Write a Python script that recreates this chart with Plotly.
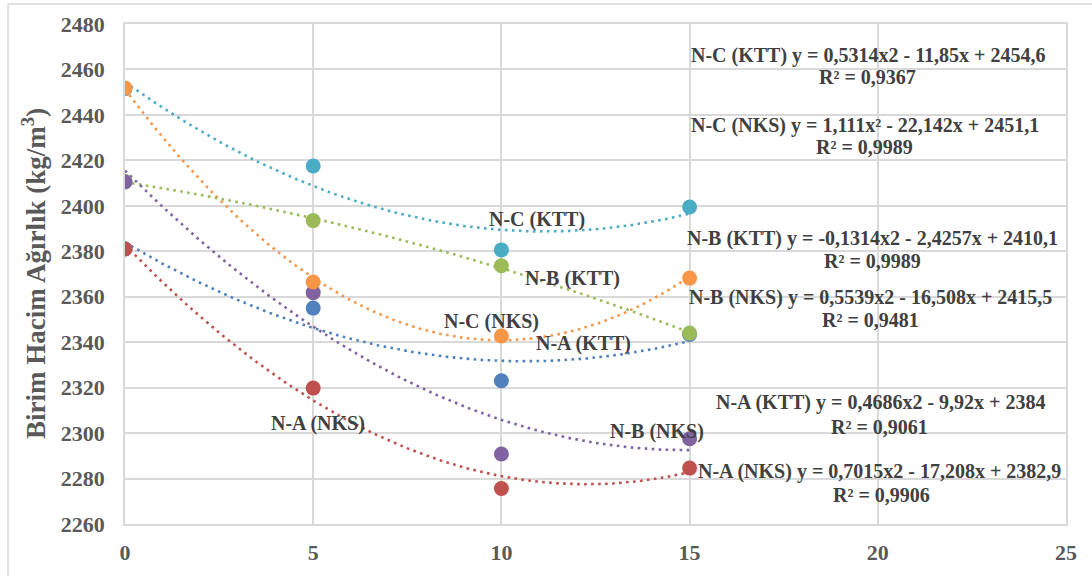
import numpy as np
import plotly.graph_objects as go

x_vals = [0, 5, 10, 15]
series_names = ["N-C (KTT)", "N-C (NKS)", "N-B (KTT)", "N-B (NKS)", "N-A (KTT)", "N-A (NKS)"]
nc_ktt = [2451.5, 2417.5, 2380.6, 2399.5]
nc_nks = [2451.8, 2366.5, 2342.7, 2368.2]
nb_ktt = [2410.8, 2393.5, 2373.6, 2344.0]
nb_nks = [2410.5, 2361.8, 2290.8, 2297.5]
na_ktt = [2381.0, 2355.0, 2323.0, 2343.4]
na_nks = [2381.0, 2319.8, 2275.6, 2284.6]
colors = ["#4BACC6", "#F79646", "#9BBB59", "#8064A2", "#4F81BD", "#C0504D"]
eq_lines = [
    "N-C (KTT) y = 0,5314x2 - 11,85x + 2454,6",
    "N-C (NKS) y = 1,111x² - 22,142x + 2451,1",
    "N-B (KTT) y = -0,1314x2 - 2,4257x + 2410,1",
    "N-B (NKS) y = 0,5539x2 - 16,508x + 2415,5",
    "N-A (KTT) y = 0,4686x2 - 9,92x + 2384",
    "N-A (NKS) y = 0,7015x2 - 17,208x + 2382,9",
]
r2_lines = ["R² = 0,9367", "R² = 0,9989", "R² = 0,9989", "R² = 0,9481", "R² = 0,9061", "R² = 0,9906"]
# equation label positions (data coords): line 1 and R² line
eq_pos = [(19.75, 2466.2), (19.67, 2435.4), (19.85, 2385.7), (19.80, 2359.7), (20.08, 2313.3), (20.05, 2283.3)]
r2_pos = [(19.72, 2456.5), (19.65, 2425.8), (19.85, 2375.6), (19.80, 2349.6), (20.05, 2302.7), (20.10, 2272.8)]
# series name label positions (data coords)
lbl_pos = [(10.95, 2393.8), (9.75, 2349.3), (11.90, 2368.2), (14.13, 2300.5), (12.17, 2339.6), (5.13, 2304.4)]

data = [nc_ktt, nc_nks, nb_ktt, nb_nks, na_ktt, na_nks]

fig = go.Figure()
xs = np.linspace(0, 15, 200)
# trendlines (polynomial order 2 fitted from data)
for name, ys, c in zip(series_names, data, colors):
    coef = np.polyfit(x_vals, ys, 2)
    fig.add_trace(go.Scatter(x=xs, y=np.polyval(coef, xs), mode="lines",
                             line=dict(color=c, width=2.6, dash="2.6px,4.4px"),
                             hoverinfo="skip", showlegend=False))
# markers, drawn so the visible overlaps match
order = [4, 2, 0, 5, 3, 1]
for i in order:
    fig.add_trace(go.Scatter(x=x_vals, y=data[i], mode="markers", name=series_names[i],
                             marker=dict(color=colors[i], size=15), showlegend=False))

font_serif = "Liberation Serif, Times New Roman, serif"
for name, (px, py) in zip(series_names, lbl_pos):
    fig.add_annotation(x=px, y=py, text="<b>" + name + "</b>", showarrow=False,
                       font=dict(family=font_serif, size=20, color="#404040"))
for eq, (px, py) in zip(eq_lines, eq_pos):
    fig.add_annotation(x=px, y=py, text="<b>" + eq + "</b>", showarrow=False,
                       font=dict(family=font_serif, size=20, color="#404040"))
for r2, (px, py) in zip(r2_lines, r2_pos):
    fig.add_annotation(x=px, y=py, text="<b>" + r2 + "</b>", showarrow=False,
                       font=dict(family=font_serif, size=20, color="#404040"))

# y axis title
fig.add_annotation(xref="paper", yref="paper", x=-0.0967, y=0.5, xanchor="center", yanchor="middle",
                   textangle=-90, showarrow=False,
                   text="<b>Birim Hacim Ağırlık (kg/m<sup>3</sup>)</b>",
                   font=dict(family=font_serif, size=27, color="#595959"))

# outer chart border (left and top visible)
fig.add_shape(type="line", xref="paper", yref="paper", x0=-0.1243, x1=-0.1243, y0=1.04, y1=-0.2,
              line=dict(color="#D9D9D9", width=1.5))
fig.add_shape(type="line", xref="paper", yref="paper", x0=-0.1243, x1=1.1, y0=1.04, y1=1.04,
              line=dict(color="#D9D9D9", width=1.5))

fig.update_layout(
    width=1092, height=576,
    margin=dict(l=125, r=26, t=24, b=52),
    paper_bgcolor="white", plot_bgcolor="white",
    font=dict(family=font_serif, color="#595959"),
    xaxis=dict(range=[0, 25], tickvals=[0, 5, 10, 15, 20, 25], showgrid=True, gridcolor="#D9D9D9",
               gridwidth=1.5, zeroline=False, showline=True, linecolor="#D9D9D9", linewidth=1.5,
               mirror=True, ticks="", ticklabelstandoff=8,
               tickfont=dict(family=font_serif, size=22, color="#595959", weight="bold")),
    yaxis=dict(range=[2260, 2480], tickvals=list(range(2260, 2481, 20)), showgrid=True,
               gridcolor="#D9D9D9", gridwidth=1.5, zeroline=False, showline=True,
               linecolor="#D9D9D9", linewidth=1.5, mirror=True, ticks="", ticklabelstandoff=14,
               tickfont=dict(family=font_serif, size=22, color="#595959", weight="bold")),
)
fig.write_html("out.html", config={"displayModeBar": False},
               post_script="document.body.style.margin='0';")
